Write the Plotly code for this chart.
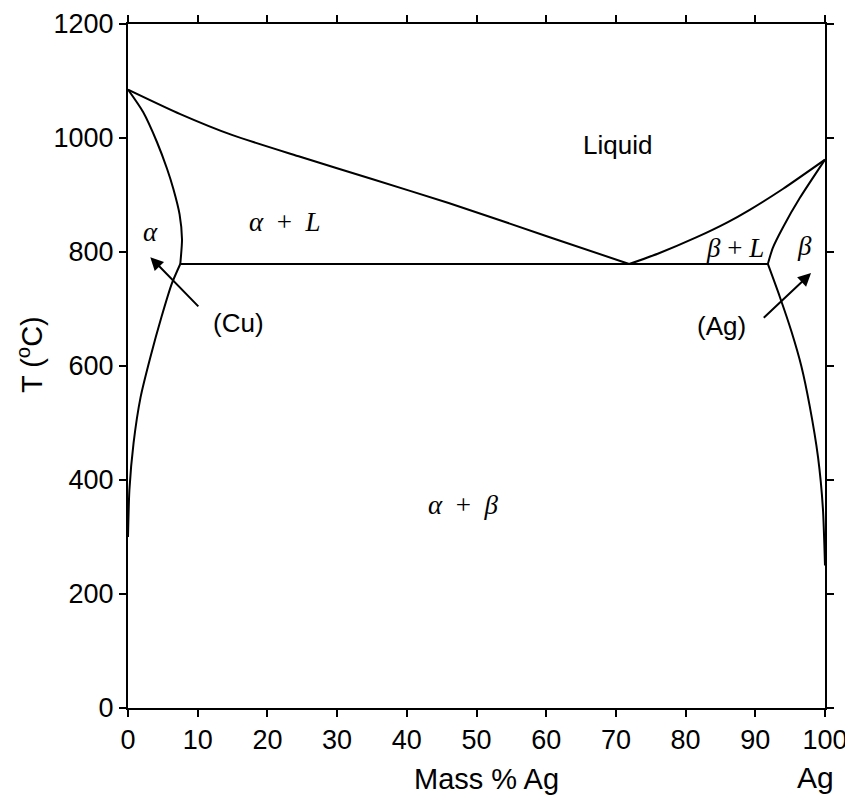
import plotly.graph_objects as go

# ---- data (Mass % Ag, T in °C) ----
liq_cu_x = [0, 7.5, 15, 24.7, 35, 46, 60.5, 71.9]
liq_cu_t = [1085, 1042, 1005, 967, 928, 886, 826, 779]

liq_ag_x = [71.9, 76, 81.6, 86, 89.2, 94, 100]
liq_ag_t = [779, 797, 826, 852, 874, 911, 962]

sol_cu_x = [0, 2.15, 4.15, 5.6, 6.5, 7.4, 7.75, 7.5]
sol_cu_t = [1085, 1046, 993, 946, 911, 866, 822, 779]

solv_cu_x = [7.5, 6.3, 4.8, 3.2, 1.8, 0.8, 0.2, 0]
solv_cu_t = [779, 745, 686, 615, 545, 465, 382, 300]

sol_ag_x = [91.8, 92.5, 94.0, 96.4, 100]
sol_ag_t = [779, 807, 844, 895, 962]

solv_ag_x = [91.8, 93.5, 95.2, 96.6, 97.8, 99, 99.7, 100]
solv_ag_t = [779, 722, 660, 600, 530, 440, 350, 250]

eut_x = [7.5, 91.8]
eut_t = [779, 779]

x_ticks = list(range(0, 101, 10))
y_ticks = list(range(0, 1201, 200))

SANS = "Liberation Sans, Arial, sans-serif"
SERIF = "Liberation Serif, Times New Roman, serif"

fig = go.Figure()
line = dict(color="black", width=2)
for xs, ts, sh in [(liq_cu_x, liq_cu_t, "spline"), (liq_ag_x, liq_ag_t, "spline"),
                   (sol_cu_x, sol_cu_t, "spline"), (solv_cu_x, solv_cu_t, "spline"),
                   (sol_ag_x, sol_ag_t, "spline"), (solv_ag_x, solv_ag_t, "spline"),
                   (eut_x, eut_t, "linear")]:
    fig.add_trace(go.Scatter(x=xs, y=ts, mode="lines", line=dict(line, shape=sh, smoothing=0.6),
                             showlegend=False, hoverinfo="skip"))

ann = []
def txt(x, y, t, size=25, fam=SANS, **kw):
    ann.append(dict(x=x, y=y, text=t, showarrow=False, xref="x", yref="y",
                    xanchor="center", yanchor="middle",
                    font=dict(family=fam, size=size, color="black"), **kw))

txt(70.3, 988, "Liquid", size=26)
txt(22.5, 853, "<i>α</i>  +  <i>L</i>", size=27, fam=SERIF)
txt(3.2, 835, "<i>α</i>", size=27, fam=SERIF)
txt(87.1, 807, "<i>β</i> + <i>L</i>", size=27, fam=SERIF)
txt(97.1, 810, "<i>β</i>", size=27, fam=SERIF)
txt(48.1, 356, "<i>α</i>  +  <i>β</i>", size=27, fam=SERIF)
txt(15.8, 675, "(Cu)", size=26)
txt(85.2, 670, "(Ag)", size=26)

for hx, hy, tx, ty in [(3.2, 791, 10.3, 702), (98.0, 763, 91.0, 682)]:
    ann.append(dict(x=hx, y=hy, ax=tx, ay=ty, xref="x", yref="y", axref="x", ayref="y",
                    text="", showarrow=True, arrowhead=2, arrowsize=1.3, arrowwidth=2,
                    arrowcolor="black", standoff=0))

def ptxt(x, y, t, size, xref="x", **kw):
    ann.append(dict(x=x, y=y, xref=xref, yref="paper", text=t, showarrow=False,
                    yanchor="middle", font=dict(family=SANS, size=size, color="black"), **kw))

ptxt(-3.7, -0.101, "Cu", 30, xanchor="left")
ptxt(98.6, -0.101, "Ag", 30, xanchor="center")
ptxt(51.5, -0.104, "Mass % Ag", 29, xanchor="center")
ptxt(-0.1406, 0.516, "T (<sup>o</sup>C)", 29, xref="paper", xanchor="center", textangle=-90)

axis_common = dict(showline=True, linecolor="black", linewidth=2, mirror="ticks",
                   ticks="outside", ticklen=7, tickwidth=2, tickcolor="black",
                   showgrid=False, zeroline=False, automargin=False,
                   tickfont=dict(family=SANS, size=27, color="black"))

# page body has an 8px margin; compensate so the plot area sits at x 128..825, y 24..708
fig.update_layout(
    width=845, height=794,
    margin=dict(l=120, r=28, t=16, b=94),
    paper_bgcolor="white", plot_bgcolor="white",
    xaxis=dict(axis_common, range=[0, 100], tickvals=x_ticks),
    yaxis=dict(axis_common, range=[0, 1200], tickvals=y_ticks),
    annotations=ann,
)

fig.write_html("out.html")
